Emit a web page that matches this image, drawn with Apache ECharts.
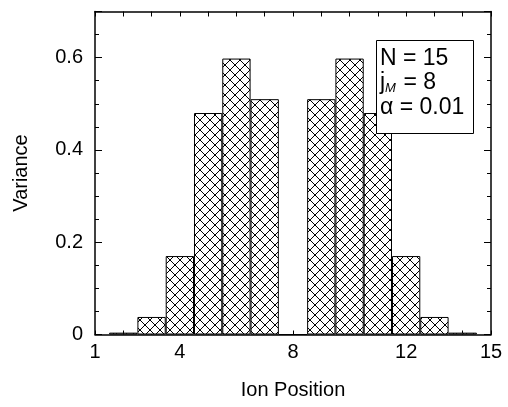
<!DOCTYPE html>
<html>
<head>
<meta charset="utf-8">
<script src="https://cdn.jsdelivr.net/npm/echarts@6/dist/echarts.min.js"></script>
<style>
  html, body { margin: 0; padding: 0; background: #fff; }
  #chart { width: 508px; height: 407px; }
</style>
</head>
<body>
<div id="chart"></div>
<script>
  // ion position -> variance (position 8 is empty)
  const positions = [2, 3, 4, 5, 6, 7, 8, 9, 10, 11, 12, 13, 14]
  const variance = [0.004, 0.038, 0.17, 0.48, 0.598, 0.51, 0, 0.51, 0.598, 0.48, 0.17, 0.038, 0.004]
  const xLabels = [1, 4, 8, 12, 15]
  const yLabels = [0, 0.2, 0.4, 0.6]

  const font = 'Liberation Sans, Arial, sans-serif'

  // crosshatch fill for the bars
  function hatch() {
    const c = document.createElement('canvas')
    c.width = 10
    c.height = 10
    const ctx = c.getContext('2d')
    ctx.fillStyle = '#fff'
    ctx.fillRect(0, 0, 10, 10)
    ctx.strokeStyle = '#000'
    ctx.lineWidth = 1
    ctx.beginPath()
    ctx.moveTo(-1, -1); ctx.lineTo(11, 11)
    ctx.moveTo(11, -1); ctx.lineTo(-1, 11)
    ctx.stroke()
    return c
  }

  const isYLabel = v => yLabels.some(l => Math.abs(l - v) < 1e-6)

  const line = { show: true, onZero: false, lineStyle: { color: '#000', width: 1.5 } }

  const yAxis = (pos, interval, len, labels) => ({
    type: 'value', position: pos, min: 0, max: 0.7, interval: interval,
    axisLine: interval === 0.05 ? line : { show: false, onZero: false },
    axisTick: { show: true, inside: true, length: len, lineStyle: { color: '#000', width: 1 } },
    axisLabel: labels ? {
      show: true, color: '#000', fontSize: 20, fontFamily: font, margin: 12,
      formatter: v => isYLabel(v) ? (v === 0 ? '0' : v.toFixed(1)) : ''
    } : { show: false },
    splitLine: { show: false },
    name: labels ? 'Variance' : '',
    nameLocation: 'middle', nameGap: 64,
    nameTextStyle: { color: '#000', fontSize: 20, fontFamily: font }
  })

  const chart = echarts.init(document.getElementById('chart'))

  chart.setOption({
    animation: false,
    backgroundColor: '#fff',
    grid: { left: 95, right: 17, top: 11.5, bottom: 72.5, outerBoundsMode: 'none' },
    xAxis: [
      {
        type: 'value', position: 'bottom', min: 1, max: 15, interval: 1,
        axisLine: line,
        axisTick: { show: true, inside: true, length: 4, lineStyle: { color: '#000', width: 1 } },
        axisLabel: {
          color: '#000', fontSize: 20, fontFamily: font, margin: 8,
          formatter: v => xLabels.includes(v) ? String(v) : ''
        },
        splitLine: { show: false },
        name: 'Ion Position', nameLocation: 'middle', nameGap: 46,
        nameTextStyle: { color: '#000', fontSize: 20, fontFamily: font }
      },
      {
        type: 'value', position: 'top', min: 1, max: 15, interval: 1,
        axisLine: line,
        axisTick: { show: true, inside: true, length: 5, lineStyle: { color: '#000', width: 1 } },
        axisLabel: { show: false },
        splitLine: { show: false }
      }
    ],
    yAxis: [
      yAxis('left', 0.05, 4, true),
      yAxis('left', 0.2, 7, false),
      yAxis('right', 0.05, 4, false),
      yAxis('right', 0.2, 7, false)
    ],
    series: [
      {
        type: 'bar',
        xAxisIndex: 0,
        yAxisIndex: 0,
        barWidth: 28.3,
        data: positions.map((p, i) => [p, variance[i]]),
        itemStyle: {
          color: { image: hatch(), repeat: 'repeat' },
          borderColor: '#000',
          borderWidth: 1
        }
      }
    ],
    graphic: [
      {
        type: 'rect', left: 376, top: 40, z: 100,
        shape: { width: 97, height: 93 },
        style: { fill: '#fff', stroke: '#000', lineWidth: 1 }
      },
      {
        type: 'text', x: 380, y: 59, z: 101,
        style: { text: 'N = 15', fontSize: 23, fontFamily: font, fill: '#000', verticalAlign: 'middle' }
      },
      {
        type: 'text', x: 380, y: 83, z: 101,
        style: { text: 'j', fontSize: 23, fontFamily: font, fill: '#000', verticalAlign: 'middle' }
      },
      {
        type: 'text', x: 385, y: 88, z: 101,
        style: { text: 'M', fontSize: 13, fontStyle: 'italic', fontFamily: font, fill: '#000', verticalAlign: 'middle' }
      },
      {
        type: 'text', x: 397, y: 83, z: 101,
        style: { text: ' = 8', fontSize: 23, fontFamily: font, fill: '#000', verticalAlign: 'middle' }
      },
      {
        type: 'text', x: 380, y: 108, z: 101,
        style: { text: 'α = 0.01', fontSize: 23, fontFamily: font, fill: '#000', verticalAlign: 'middle' }
      }
    ]
  })
</script>
</body>
</html>
